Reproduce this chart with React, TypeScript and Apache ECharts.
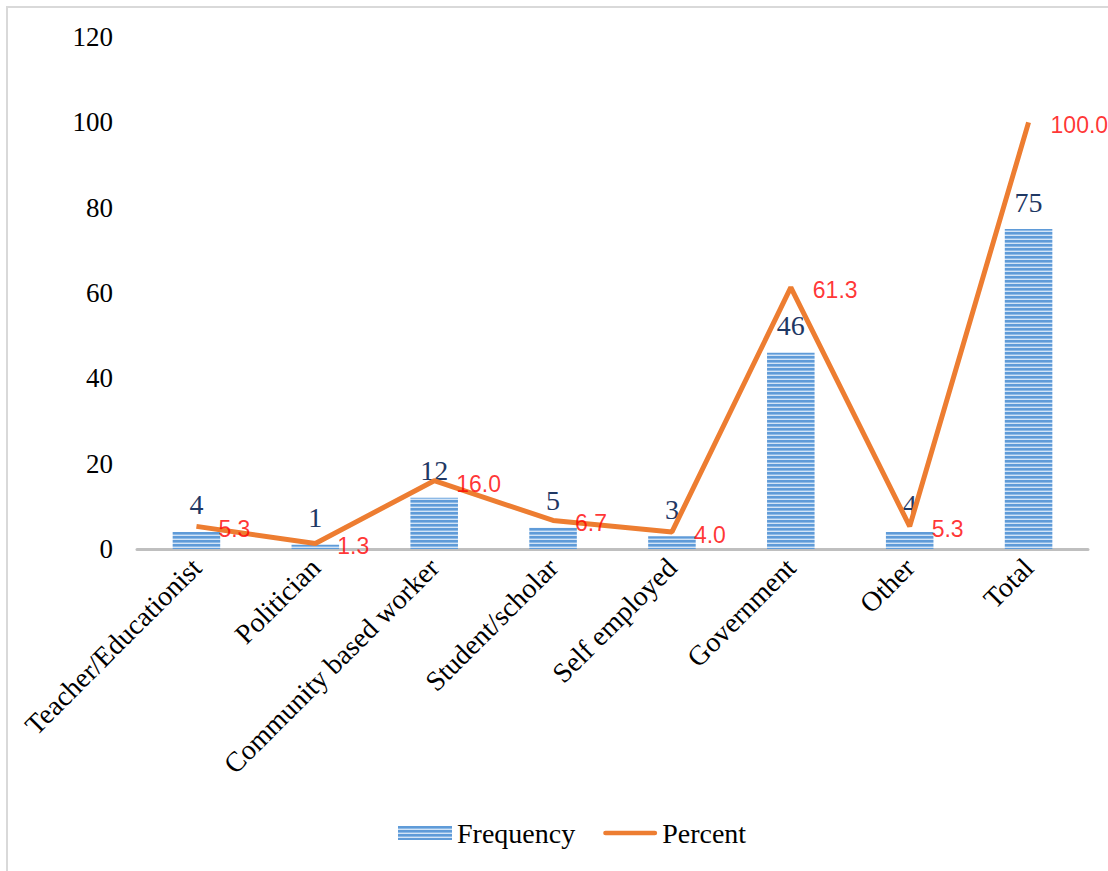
import React, { useEffect, useRef } from "react";
import * as echarts from "echarts";

const categories = [
  "Teacher/Educationist",
  "Politician",
  "Community based worker",
  "Student/scholar",
  "Self employed",
  "Government",
  "Other",
  "Total",
];
const frequency = [4, 1, 12, 5, 3, 46, 4, 75];
const percent = [5.3, 1.3, 16.0, 6.7, 4.0, 61.3, 5.3, 100.0];
const yTicks = { min: 0, max: 120, interval: 20 };

function stripePattern(): string {
  const c = document.createElement("canvas");
  c.width = 4;
  c.height = 4;
  const ctx = c.getContext("2d")!;
  ctx.fillStyle = "#5f9bd8";
  ctx.fillRect(0, 0, 4, 4);
  ctx.fillStyle = "#8db9e6";
  ctx.fillRect(0, 2, 4, 1);
  ctx.fillStyle = "#d3e4f6";
  ctx.fillRect(0, 3, 4, 1);
  return c.toDataURL();
}

export default function App() {
  const ref = useRef<HTMLDivElement>(null);

  useEffect(() => {
    if (!ref.current) return;
    const chart = echarts.init(ref.current, undefined, { renderer: "svg" });
    const barFill = { image: stripePattern(), repeat: "repeat" } as any;
    const serif = "Liberation Serif";

    chart.setOption({
      animation: false,
      backgroundColor: "#ffffff",
      graphic: [
        {
          type: "polyline",
          shape: { points: [[7, 871], [7, 7], [1108, 7]] },
          style: { stroke: "#d9d9d9", lineWidth: 2, fill: "none" },
          silent: true,
        },
      ],
      grid: { left: 137, right: 20, top: 37, bottom: 322, containLabel: false },
      legend: {
        top: 814,
        left: 393,
        itemGap: 28,
        itemWidth: 54,
        itemHeight: 14,
        textStyle: { fontFamily: serif, fontSize: 28, color: "#000" },
        data: [
          { name: "Frequency", icon: "rect" },
          {
            name: "Percent",
            icon: "path://M2,0H106A2,2 0 0 1 106,10H2A2,2 0 0 1 2,0Z",
            itemStyle: { color: "#ed7d31" },
          },
        ],
      },
      xAxis: {
        type: "category",
        data: categories,
        axisTick: { show: false },
        axisLine: { lineStyle: { color: "#bfbfbf", width: 3 } },
        axisLabel: {
          interval: 0,
          rotate: 45,
          margin: 14,
          fontFamily: serif,
          fontSize: 28,
          color: "#000",
        },
      },
      yAxis: {
        type: "value",
        min: yTicks.min,
        max: yTicks.max,
        interval: yTicks.interval,
        splitLine: { show: false },
        axisLine: { show: false },
        axisTick: { show: false },
        axisLabel: { margin: 24, fontFamily: serif, fontSize: 27, color: "#000" },
      },
      series: [
        {
          name: "Frequency",
          type: "bar",
          data: frequency,
          barWidth: "40%",
          itemStyle: { color: barFill },
          label: {
            show: true,
            position: "top",
            distance: 13,
            fontFamily: serif,
            fontSize: 28,
            color: "#1f3864",
          },
          z: 2,
        },
        {
          name: "Percent",
          type: "line",
          data: percent,
          symbol: "none",
          lineStyle: { color: "#ed7d31", width: 5 },
          itemStyle: { color: "#ed7d31" },
          z: 3,
        },
        {
          // value labels for the percent line
          name: "PercentLabels",
          type: "scatter",
          data: percent,
          symbolSize: 0,
          itemStyle: { color: "#ed7d31" },
          label: {
            show: true,
            position: "right",
            distance: 22,
            offset: [0, 3],
            fontFamily: "Liberation Sans",
            fontSize: 23,
            color: "#ff0000",
            formatter: (p: any) => Number(p.value).toFixed(1),
          },
          z: 4,
        },
      ],
    });

    return () => chart.dispose();
  }, []);

  return (
    <div
      ref={ref}
      style={{ position: "fixed", left: 0, top: 0, width: 1108, height: 871 }}
    />
  );
}
